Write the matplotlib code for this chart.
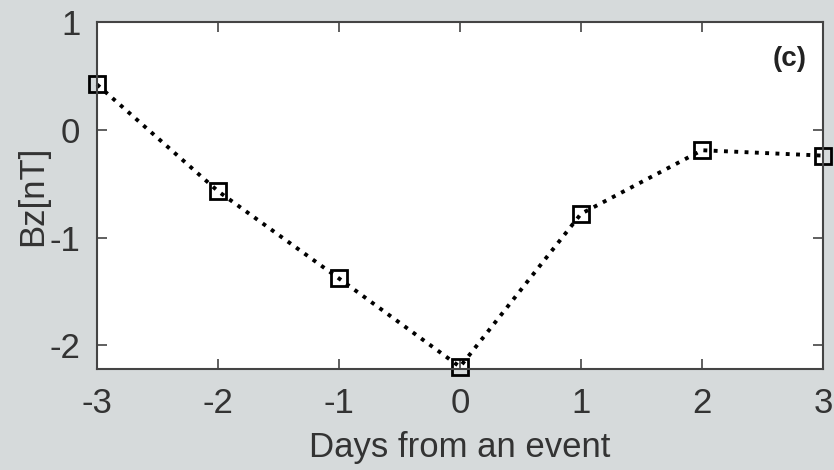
import matplotlib.pyplot as plt
import numpy as np

days = [-3, -2, -1, 0, 1, 2, 3]
bz = [0.42, -0.57, -1.38, -2.20, -0.78, -0.19, -0.24]

xticks = [-3, -2, -1, 0, 1, 2, 3]
yticks = [1, 0, -1, -2]

plt.rcParams['font.family'] = ['Liberation Sans', 'DejaVu Sans']
plt.rcParams['axes.unicode_minus'] = False

fig = plt.figure(figsize=(8.34, 4.70), dpi=100, facecolor='#d6dadb')
ax = fig.add_axes([0.1163, 0.2149, 0.8705, 0.7383])
ax.set_facecolor('white')

ax.plot(days, bz, linestyle=':', color='black', linewidth=2.8,
        marker='s', markersize=11, markerfacecolor='none',
        markeredgecolor='black', markeredgewidth=2.0, clip_on=False)

ax.set_xlim(-3, 3)
ax.set_ylim(-2.22, 1)
ax.set_xticks(xticks)
ax.set_yticks(yticks)
ax.tick_params(direction='in', top=True, right=True, length=7, width=1.2,
               color='#444444', labelsize=25, labelcolor='#333333')
ax.tick_params(axis='x', pad=13)
ax.tick_params(axis='y', pad=12)
for s in ax.spines.values():
    s.set_color('#444444')
    s.set_linewidth(1.5)

ax.set_xlabel('Days from an event', fontsize=25, color='#333333')
ax.set_ylabel('Bz[nT]', fontsize=25, color='#333333')
ax.xaxis.set_label_coords(0.5, -0.178)
ax.yaxis.set_label_coords(-0.066, 0.5)
ax.text(0.978, 0.93, '(c)', transform=ax.transAxes, ha='right', va='top',
        fontsize=20, fontweight='bold', color='#222222')

fig.savefig('out.png', dpi=100, facecolor=fig.get_facecolor())
